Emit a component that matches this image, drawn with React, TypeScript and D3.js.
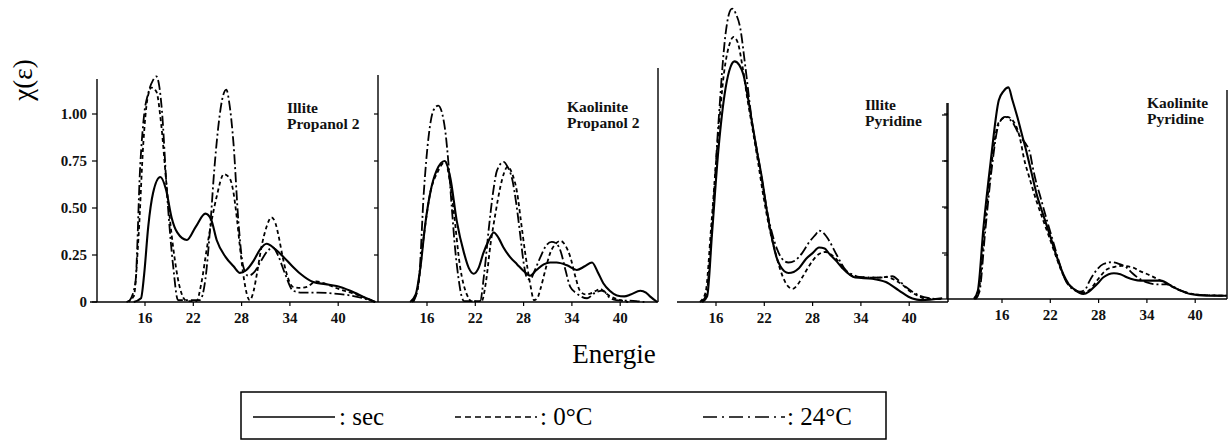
import React from "react";
import * as d3 from "d3";

type Pt = [number, number];

// ---------- DATA (energy, χ(ε)) ----------
const xTicks = [16, 22, 28, 34, 40];
const yTicks = [0, 0.25, 0.5, 0.75, 1.0];
const yTickLabels = ["0", "0.25", "0.50", "0.75", "1.00"];
const seriesNames = ["sec", "0°C", "24°C"];

const illitePropanolSec: Pt[] = [[14.6,0],[15.5,0.02],[15.9,0.15],[16.4,0.4],[17.0,0.58],[17.9,0.665],[18.6,0.6],[19.3,0.45],[20.0,0.37],[21.2,0.33],[22.3,0.4],[23.5,0.47],[24.2,0.44],[24.9,0.33],[26.0,0.24],[27.0,0.19],[27.8,0.155],[28.6,0.17],[29.5,0.22],[30.3,0.28],[31.1,0.31],[32.2,0.28],[33.2,0.24],[34.3,0.19],[35.3,0.15],[36.9,0.106],[38.4,0.095],[39.8,0.085],[41.5,0.06],[43.5,0.02],[44.6,0]];
const illitePropanol0C: Pt[] = [[13.7,0],[14.6,0.03],[15.2,0.35],[15.8,0.85],[16.3,1.08],[16.8,1.14],[17.4,1.12],[18.0,0.95],[18.7,0.61],[19.5,0.29],[20.2,0.1],[20.8,0.02],[21.2,0.005],[22.4,0.005],[23.0,0.1],[23.7,0.29],[24.4,0.46],[24.9,0.56],[25.8,0.68],[26.5,0.66],[27.0,0.58],[27.4,0.45],[27.8,0.29],[28.3,0.12],[29.0,0.01],[29.5,0.06],[29.9,0.15],[30.5,0.3],[31.1,0.4],[31.7,0.45],[32.2,0.42],[32.6,0.35],[33.1,0.24],[33.6,0.15],[34.4,0.08],[35.3,0.075],[36.1,0.08],[37.3,0.11],[38.5,0.095],[39.4,0.08],[40.7,0.06],[41.9,0.045],[43.5,0.02],[44.6,0]];
const illitePropanol24C: Pt[] = [[14.0,0],[14.8,0.1],[15.4,0.72],[15.9,1.0],[16.4,1.11],[17.0,1.18],[17.4,1.2],[17.8,1.14],[18.1,1.02],[18.7,0.6],[19.5,0.19],[20.1,0.01],[22.8,0.01],[23.5,0.12],[24.1,0.4],[24.6,0.7],[25.1,0.93],[25.6,1.08],[26.1,1.13],[26.5,1.05],[27.0,0.84],[27.6,0.43],[28.2,0.19],[28.8,0.14],[29.6,0.16],[30.3,0.21],[31.2,0.27],[31.9,0.29],[32.6,0.24],[33.4,0.15],[34.4,0.06],[35.5,0.05],[37.5,0.05],[39.5,0.045],[41.5,0.035],[43.5,0.015],[44.6,0]];

const kaolinitePropanolSec: Pt[] = [[13.9,0],[14.6,0.04],[15.2,0.19],[15.8,0.42],[16.4,0.58],[17.2,0.7],[18.2,0.75],[18.9,0.66],[19.7,0.43],[20.6,0.26],[21.2,0.18],[21.8,0.15],[22.4,0.18],[23.0,0.26],[23.7,0.33],[24.3,0.37],[24.9,0.34],[25.5,0.29],[26.3,0.24],[27.2,0.2],[28.0,0.165],[28.8,0.14],[29.6,0.17],[30.5,0.2],[31.3,0.21],[32.1,0.21],[33.4,0.195],[34.6,0.17],[35.6,0.19],[36.5,0.21],[37.2,0.16],[37.9,0.1],[38.7,0.06],[39.6,0.035],[40.5,0.03],[41.3,0.04],[42.5,0.06],[43.2,0.05],[43.7,0.03],[44.6,0]];
const kaolinitePropanol0C: Pt[] = [[14.1,0],[14.8,0.06],[15.6,0.35],[16.4,0.58],[17.3,0.69],[18.3,0.745],[18.8,0.65],[19.3,0.49],[20.1,0.19],[21.0,0.035],[21.5,0.005],[22.8,0.005],[23.3,0.1],[23.9,0.31],[24.5,0.47],[25.1,0.61],[25.6,0.69],[26.0,0.72],[26.6,0.68],[27.2,0.58],[27.7,0.42],[28.2,0.26],[28.8,0.1],[29.3,0.01],[29.7,0.02],[30.1,0.07],[30.7,0.17],[31.3,0.26],[32.0,0.31],[32.6,0.325],[33.2,0.3],[33.8,0.24],[34.4,0.14],[35.0,0.06],[35.7,0.04],[36.3,0.045],[37.0,0.06],[37.5,0.07],[38.1,0.05],[38.8,0.03],[40.0,0.01],[41.0,0]];
const kaolinitePropanol24C: Pt[] = [[14.3,0],[15.0,0.12],[15.6,0.58],[16.2,0.88],[16.8,1.02],[17.4,1.045],[17.9,1.0],[18.3,0.9],[18.7,0.72],[19.1,0.49],[19.5,0.28],[19.9,0.13],[20.3,0.03],[20.6,0.005],[22.6,0.005],[23.1,0.15],[23.7,0.4],[24.2,0.58],[24.7,0.7],[25.5,0.745],[26.0,0.72],[26.6,0.65],[27.1,0.52],[27.6,0.35],[28.0,0.21],[28.4,0.13],[28.8,0.12],[29.4,0.17],[30.1,0.24],[30.8,0.3],[31.5,0.32],[32.1,0.31],[32.6,0.27],[33.2,0.17],[33.8,0.08],[34.6,0.045],[35.9,0.02],[36.9,0.05],[37.9,0.06],[38.5,0.03],[39.5,0.01],[42.0,0.005],[43.0,0]];

const illitePyridineSec: Pt[] = [[14.3,0],[14.9,0.03],[15.5,0.36],[16.3,0.81],[17.2,1.14],[17.8,1.25],[18.3,1.28],[18.9,1.26],[19.4,1.21],[20.0,1.08],[20.5,0.95],[21.1,0.8],[21.7,0.66],[22.3,0.49],[23.0,0.33],[23.5,0.24],[24.0,0.19],[25.0,0.154],[26.3,0.18],[27.2,0.23],[28.0,0.26],[28.8,0.29],[29.5,0.285],[30.0,0.26],[30.9,0.22],[31.7,0.18],[33.3,0.13],[35.4,0.124],[37.1,0.106],[38.7,0.062],[40.4,0.018],[41.5,0.01],[44.1,0.02]];
const illitePyridine0C: Pt[] = [[14.0,0],[14.7,0.05],[15.4,0.4],[16.2,0.85],[17.0,1.22],[17.6,1.36],[18.2,1.41],[18.7,1.38],[19.3,1.25],[19.9,1.08],[20.5,0.93],[21.2,0.75],[21.9,0.56],[22.6,0.4],[23.4,0.26],[24.0,0.17],[24.6,0.106],[25.5,0.07],[26.1,0.09],[26.7,0.13],[27.4,0.18],[28.0,0.22],[28.8,0.255],[29.6,0.266],[30.2,0.255],[30.9,0.23],[31.9,0.18],[32.9,0.14],[34.6,0.13],[36.0,0.13],[37.1,0.133],[38.3,0.115],[39.2,0.09],[40.0,0.06],[41.0,0.035],[42.0,0.018],[44.0,0.015]];
const illitePyridine24C: Pt[] = [[14.2,0],[14.8,0.04],[15.5,0.4],[16.3,0.95],[17.2,1.43],[17.6,1.53],[18.0,1.56],[18.5,1.53],[19.0,1.46],[19.65,1.25],[20.5,0.95],[21.2,0.78],[21.9,0.6],[22.5,0.45],[23.0,0.36],[23.6,0.28],[24.2,0.23],[25.0,0.21],[25.8,0.22],[26.7,0.26],[27.6,0.32],[28.4,0.36],[28.8,0.38],[29.4,0.365],[30.0,0.33],[31.0,0.25],[32.1,0.17],[33.0,0.145],[33.8,0.133],[36.2,0.13],[37.9,0.137],[38.8,0.11],[39.6,0.08],[40.4,0.055],[41.2,0.035],[42.5,0.02],[44.0,0.015]];

const kaolinitePyridineSec: Pt[] = [[12.5,0],[13.0,0.045],[13.7,0.39],[14.6,0.75],[15.6,1.08],[16.2,1.13],[16.8,1.15],[17.3,1.08],[17.9,0.99],[18.5,0.89],[19.1,0.79],[19.7,0.68],[20.3,0.57],[21.1,0.46],[22.0,0.34],[22.8,0.23],[23.6,0.136],[24.3,0.08],[24.9,0.055],[26.1,0.027],[26.8,0.04],[27.4,0.064],[28.0,0.09],[28.6,0.118],[29.9,0.14],[30.7,0.135],[31.5,0.118],[33.2,0.1],[34.5,0.1],[35.7,0.1],[37.3,0.064],[39.4,0.027],[41.4,0.018],[43.9,0.018]];
const kaolinitePyridine0C: Pt[] = [[12.6,0],[13.1,0.04],[13.8,0.37],[14.6,0.7],[15.6,0.96],[16.6,0.99],[17.7,0.945],[18.3,0.86],[18.7,0.77],[19.4,0.66],[20.3,0.53],[21.1,0.43],[22.0,0.32],[22.8,0.22],[23.6,0.13],[24.5,0.07],[26.1,0.036],[26.9,0.05],[27.8,0.1],[29.0,0.16],[30.0,0.175],[30.9,0.18],[32.3,0.17],[33.2,0.15],[34.0,0.136],[35.7,0.1],[37.3,0.064],[38.5,0.04],[40.0,0.025],[42.0,0.02],[43.9,0.018]];
const kaolinitePyridine24C: Pt[] = [[12.7,0],[13.2,0.04],[13.9,0.36],[14.7,0.7],[15.6,0.95],[16.4,0.99],[17.3,0.96],[18.3,0.88],[19.0,0.84],[19.5,0.79],[19.8,0.72],[20.1,0.66],[20.8,0.55],[21.5,0.44],[22.3,0.32],[23.1,0.2],[23.8,0.11],[24.6,0.06],[25.7,0.04],[26.3,0.05],[26.9,0.1],[27.8,0.16],[28.6,0.19],[29.7,0.2],[30.6,0.19],[31.5,0.17],[32.2,0.14],[32.8,0.118],[34.0,0.09],[35.2,0.08],[36.5,0.08],[38.0,0.05],[40.0,0.025],[42.0,0.02],[43.9,0.018]];

const panelTitles = [
  ["Illite", "Propanol 2"],
  ["Kaolinite", "Propanol 2"],
  ["Illite", "Pyridine"],
  ["Kaolinite", "Pyridine"],
];
const panelData: Pt[][][] = [
  [illitePropanolSec, illitePropanol0C, illitePropanol24C],
  [kaolinitePropanolSec, kaolinitePropanol0C, kaolinitePropanol24C],
  [illitePyridineSec, illitePyridine0C, illitePyridine24C],
  [kaolinitePyridineSec, kaolinitePyridine0C, kaolinitePyridine24C],
];

// ---------- LAYOUT ----------
const W = 1231, H = 441;
const SERIF = "'Liberation Serif', 'Times New Roman', serif";
const dashes = [null, "4,3", "10,3,2,3"];
const widths = [2.1, 1.8, 1.8];

type PanelLayout = {
  e16: number;
  baseY: number; oneY: number;
  axisL: number; axisR: number;
  leftLine: number | null; leftTop: number; leftTicks: boolean; leftLabels: boolean;
  rightLine: number; rightTop: number; rightTicks: boolean;
  titleX: number; titleY: number;
};
const PX_PER_UNIT = 8.05;
const layouts: PanelLayout[] = [
  { e16: 145, baseY: 302, oneY: 114, axisL: 90, axisR: 378, leftLine: 97, leftTop: 79, leftTicks: true, leftLabels: true, rightLine: 378, rightTop: 75, rightTicks: true, titleX: 287, titleY: 113 },
  { e16: 427, baseY: 302, oneY: 114, axisL: 378, axisR: 658, leftLine: null, leftTop: 0, leftTicks: false, leftLabels: false, rightLine: 658, rightTop: 68, rightTicks: false, titleX: 567, titleY: 112 },
  { e16: 716, baseY: 302, oneY: 114, axisL: 677, axisR: 948, leftLine: null, leftTop: 0, leftTicks: false, leftLabels: false, rightLine: 948, rightTop: 103, rightTicks: true, titleX: 865, titleY: 110 },
  { e16: 1002, baseY: 299, oneY: 115, axisL: 947, axisR: 1227, leftLine: 947, leftTop: 103, leftTicks: true, leftLabels: false, rightLine: 1227, rightTop: 90, rightTicks: false, titleX: 1147, titleY: 108 },
];

function Panel({ idx }: { idx: number }) {
  const L = layouts[idx];
  const x = d3.scaleLinear().domain([16, 40]).range([L.e16, L.e16 + 24 * PX_PER_UNIT]);
  const y = d3.scaleLinear().domain([0, 1]).range([L.baseY, L.oneY]);
  const line = d3.line<Pt>().x(d => x(d[0])).y(d => y(d[1])).curve(d3.curveMonotoneX);
  return (
    <g>
      {panelData[idx].map((s, i) => (
        <path key={i} d={line(s) || ""} fill="none" stroke="#000" strokeWidth={widths[i]}
          strokeDasharray={dashes[i] || undefined} strokeLinejoin="round" />
      ))}
      <line x1={L.axisL} x2={L.axisR} y1={L.baseY} y2={L.baseY} stroke="#000" strokeWidth={1.6} />
      {xTicks.map(t => (
        <g key={t}>
          <line x1={x(t)} x2={x(t)} y1={L.baseY} y2={L.baseY + 4} stroke="#000" strokeWidth={1.2} />
          <text x={x(t)} y={L.baseY + 21} textAnchor="middle" fontFamily={SERIF} fontSize={15} fontWeight="bold" fill="#111">{t}</text>
        </g>
      ))}
      {L.leftLine !== null && (
        <g>
          <line x1={L.leftLine} x2={L.leftLine} y1={L.baseY} y2={L.leftTop} stroke="#000" strokeWidth={1.4} />
          {L.leftTicks && yTicks.map(t => (
            <line key={t} x1={L.leftLine! - 5} x2={L.leftLine!} y1={y(t)} y2={y(t)} stroke="#000" strokeWidth={1.2} />
          ))}
          {L.leftLabels && yTicks.map((t, i) => (
            <text key={t} x={L.leftLine! - 10} y={y(t) + 5} textAnchor="end" fontFamily={SERIF} fontSize={15} fontWeight="bold" fill="#111">{yTickLabels[i]}</text>
          ))}
        </g>
      )}
      <line x1={L.rightLine} x2={L.rightLine} y1={L.baseY} y2={L.rightTop} stroke="#000" strokeWidth={1.4} />
      {L.rightTicks && yTicks.slice(1).map(t => (
        <line key={t} x1={L.rightLine - 4} x2={L.rightLine} y1={y(t)} y2={y(t)} stroke="#000" strokeWidth={1.2} />
      ))}
      <text fontFamily={SERIF} fontSize={15.5} fontWeight="bold" fill="#111">
        <tspan x={L.titleX} y={L.titleY}>{panelTitles[idx][0]}</tspan>
        <tspan x={L.titleX} y={L.titleY + 16}>{panelTitles[idx][1]}</tspan>
      </text>
    </g>
  );
}

export default function App() {
  const legendItems = [
    { x1: 253, x2: 335, tx: 339 },
    { x1: 455, x2: 537, tx: 540 },
    { x1: 703, x2: 785, tx: 787 },
  ];
  const legendDash = [null, "6,4", "14,5,2,5"];
  return (
    <svg width={W} height={H} style={{ position: "absolute", left: 0, top: 0, background: "#fff" }}>
      <rect x={0} y={0} width={W} height={H} fill="#fff" />
      {layouts.map((_, i) => <Panel key={i} idx={i} />)}
      <text transform="translate(32,80) rotate(-90)" textAnchor="middle" fontFamily={SERIF} fontSize={27} fill="#000">χ(ε)</text>
      <text x={614} y={363} textAnchor="middle" fontFamily={SERIF} fontSize={27} fill="#000">Energie</text>
      <rect x={241} y={392} width={645} height={47} fill="none" stroke="#000" strokeWidth={1.5} />
      {legendItems.map((it, i) => (
        <g key={i}>
          <line x1={it.x1} x2={it.x2} y1={417} y2={417} stroke="#000" strokeWidth={1.6} strokeDasharray={legendDash[i] || undefined} />
          <text x={it.tx} y={425} fontFamily={SERIF} fontSize={25} fill="#000">: {seriesNames[i]}</text>
        </g>
      ))}
    </svg>
  );
}
